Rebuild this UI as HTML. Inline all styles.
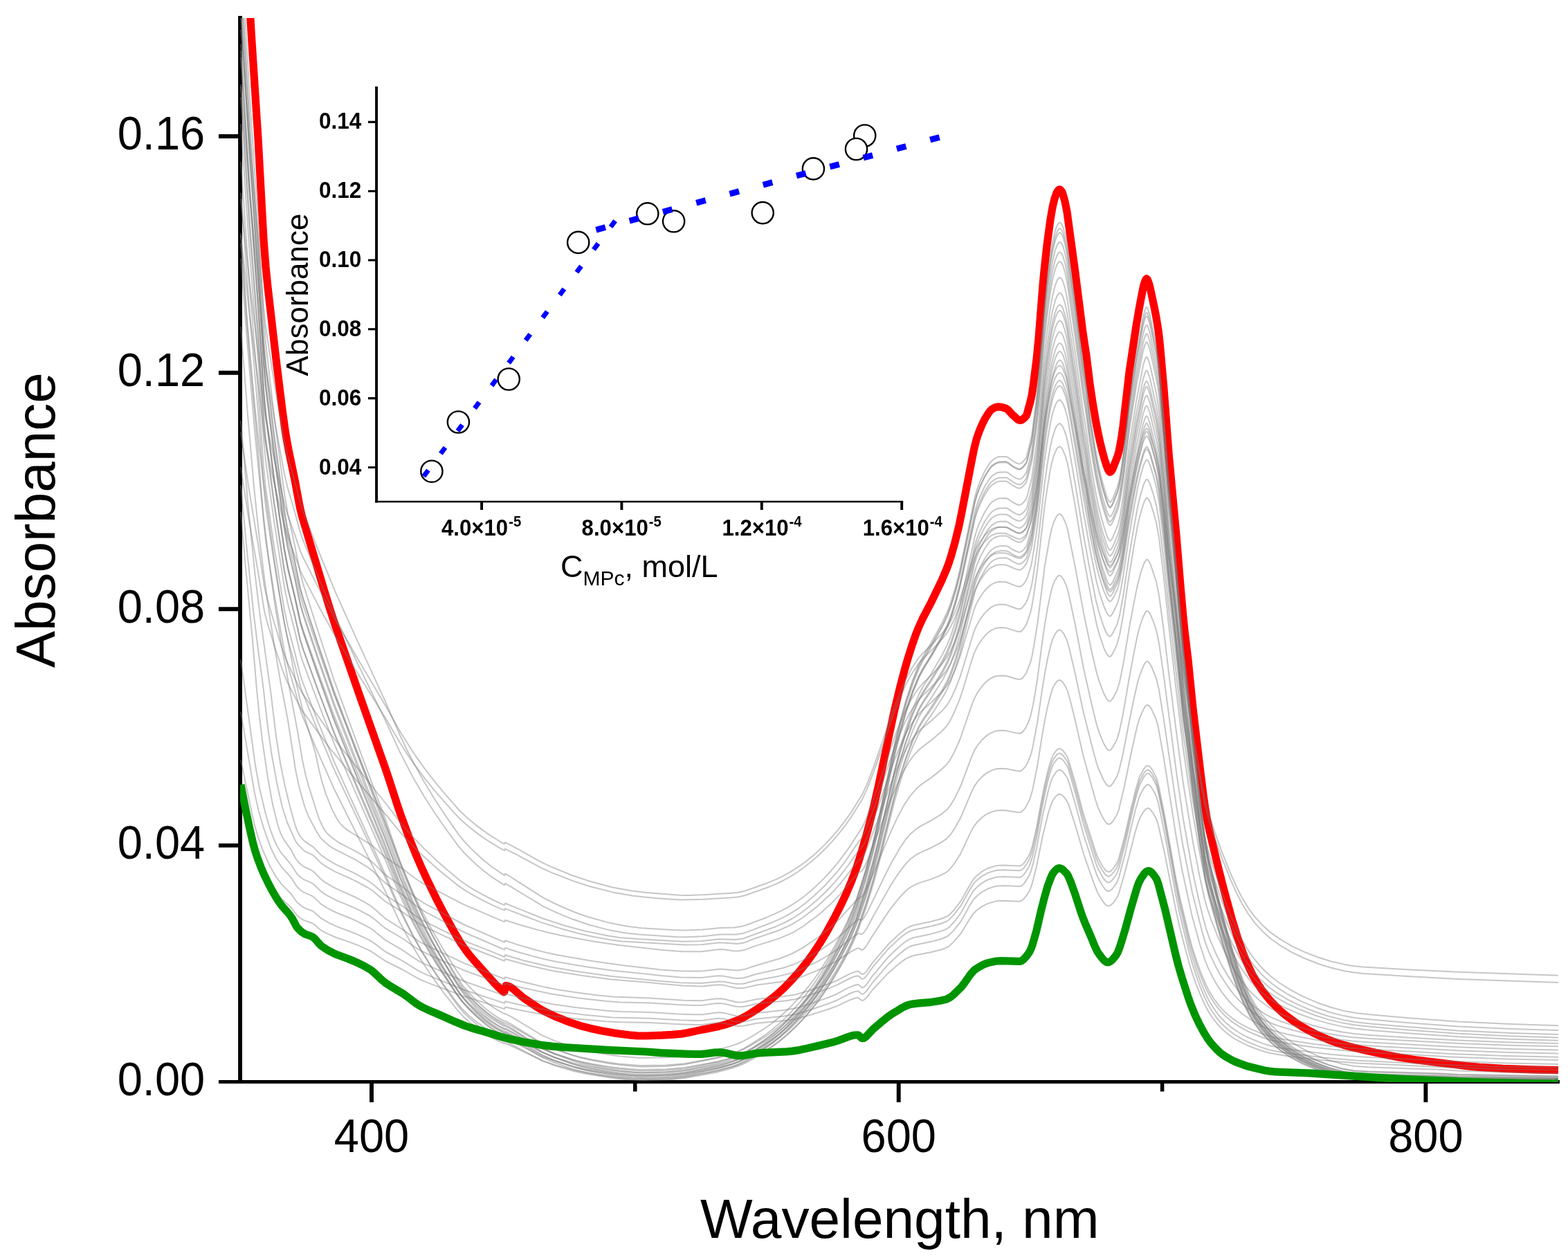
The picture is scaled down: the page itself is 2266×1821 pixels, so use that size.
<!DOCTYPE html>
<html lang="en"><head><meta charset="utf-8"><title>Absorbance spectra</title>
<style>html,body{margin:0;padding:0;background:#fff}svg{display:block}text{font-family:"Liberation Sans",sans-serif;fill:#000}.g path{fill:none;stroke:#7a7a7a;stroke-opacity:0.43;stroke-width:2;stroke-linejoin:round}.b{font-weight:bold}</style></head>
<body>
<svg width="2266" height="1821" viewBox="0 0 2266 1821">
<rect width="2266" height="1821" fill="#fff"/>
<defs><clipPath id="c"><rect x="347" y="26" width="1905.6" height="1537.9"/></clipPath></defs>
<g stroke="#000" fill="none" stroke-linecap="butt">
<path stroke-width="5.9" d="M347.05 23V1566"/>
<path stroke-width="4.9" d="M316 1563.5H2253.9"/>
<path stroke-width="5.9" d="M316 197.05H347M316 538.7H347M316 880.3H347M316 1221.9H347M537 1563V1592.9M1298.7 1563V1592.9M2060.4 1563V1592.9"/>
<path stroke-width="5.5" d="M917.8 1563V1577.5M1679.6 1563V1577.5"/>
</g>
<g clip-path="url(#c)" fill="none" stroke-linejoin="round">
<path stroke="#f00" stroke-width="11.2" d="M348-40l10 0.1l5 85l10 155.2l8 146.2l3 38.7l3 29.6l12 104.4l9 73.2l4 29l2 12.4l3 16.3l9 43.4l7 37.8l3 13.1l32 107.3l9 29.1l8 24.5l34 97.9l37 104.7l6 17.7l12 37.1l5 14.7l12 32.6l11 27.3l7 16.1l7 15.3l16 33l9 17.2l12 22l7 12.3l6 9.9l8 11.5l5 6.3l6 7.1l30 33.4l6 6.1l7 6.3l1-0.8l1-5.2l1-3.3l2 0.2l3 1l3 1.7l3 2.2l11 9.7l4 3.2l20 13.5l6 3.6l5 2.7l15 7.1l20 7.9l15 5l15 3.9l15 3.2l20 3.7l21 2.7l12 1.1l13 0.1l23-0.8l14-0.8l14-1.3l8-1.3l18-3.9l21-4.1l7-1.6l8-2.1l11-3.6l10-3.9l7-3.4l9-5.2l15-9.7l11-7.9l12-9.6l10-9l11-11.2l12-13.4l11-13.7l10-13.8l9-13.7l10-16.7l10-18.3l10-19.6l8-17.1l7-16.4l6-15.6l5-14.9l6-19.8l6-21l5-19l5-20.2l7-30.8l15-71.7l8-36.8l8-33.2l7-26.5l4-13.8l6-18.9l5-14.4l4-10.3l6-13.3l13-24.9l15-31l7-16.5l3-8.1l3-9.1l6-21.1l6-24.5l4-19.5l15-78.1l3-14.5l3-11.9l2-6.3l3-8l4-9.3l3-6l6-9.6l2-2.6l2-1.9l3-1.9l3-1.4l3-0.6l3 0.2l4 0.7l5 1.6l3 2.2l6 6.5l6 5.6l2 1.6l2 0.9l1 0.2l2-0.3l3-1.8l2-1.9l2-2.3l1-2.4l5-18.2l2-8.7l2-13.3l5-39.3l3-30.3l6-76.3l2-21.7l4-36.3l5-37.5l3-17.4l3-12.6l3-8.5l2-3.1l1-1.1l1-0.6l1 0.3l2 2.1l1 1.7l1 2.6l3 10.7l3 15.1l12 88.2l11 86.6l5 33.1l5 40.5l4 26.9l4 23.8l4 21.1l3 13.5l3 12.2l3 10.9l3 9.4l2 5.4l2 3.5l1 0.9l1-0.2l2-2.6l1-1.9l7-18.1l2-7.1l2-10l2-12.1l2-14.4l9-78.3l10-67l5-28.9l5-25.9l1-4.2l2-5.8l1-2.2l1-0.8l1 0.9l1 2.1l2 5.8l1 4l6 27.9l3 15.4l3 18.8l2 16.7l6 68.2l7 92.2l11 119.3l6 72.9l4 45.6l2 19.4l5 41.7l7 70.2l11 93.3l4 31.7l3 21.4l2 11.5l3 15l11 46.7l10 39.7l12 44.1l9 29.3l7 20.1l5 12.4l4 9.1l4 8.4l4 7.5l5 8.3l6 8.9l6 7.9l6 7.1l6 6.4l7 6.9l7 6.1l8 6.2l8 5.7l9 5.8l10 5.7l10 5.2l9 4.2l10 4.2l11 4.1l10 3.2l12 3.3l15 3.6l38 8.2l17 3.2l23 3.4l72 8.8l20 1.9l34 2l42 1.5l37.9 0.8"/>
<g class="g">
<path d="M348 1141.1l7 30.8l12 48.6l6 18.3l6 14.7l10 20.1l10 15.8l8 9.6l14 13.1l8 10.6l5 4.1l5 3.1l11 3.9l3 1.5l11 9.1l9 4.9l13 5.7l19 6.4l13 5l17 7.7l22 14.9l25 12.5l24 13.7l11 4.7l52 19.5l60 18.7l1-2.7l27 5.7l39 6.8l36 4.3l44 4l20 1.1l44 0.8l41 2.2l22 0.7l12-0.1l18-2.4l7-0.3l7 0.7l19 4l8-0.2l20-4l39-3.5l16-2.4l17-4.4l32-10.1l11-4l18-8.7l8-2.9l5-0.9l5 3.8l1 0.4l2-0.5l4-3.4l9-11.6l22-23.6l15-13.1l10-7.4l6-3.2l6-2.1l25-4.8l15-3.8l8-2.9l4-2.5l7-6.7l10-11.9l13-21.4l5-7.2l5-4.7l7-5.1l9-4.5l13-3.5l10-0.4l22 1l2-0.4l2-1l3-2.7l4-5.2l4-6.6l2-4.7l3-10l5-20.2l9-44.5l8-32.5l4-12.1l3-6.8l5-6.3l3-1.9l3 0.3l3 2.1l5 6l3 5.7l10 30.9l12 41.5l16 45.4l4 10l6 10.3l5 6.8l2 1.6l2 0.9l3-0.4l4-3.2l5-6.4l2-3.5l2-5l9-31.2l15-58.5l5-16l2-4.3l5-8.3l3-3.4l3-1.1l2 0.8l2 1.7l4 5.6l4 7.3l3 9.3l9 40.3l16 80.8l6 27.1l13 49.2l4 13.4l6 17.3l6 15.3l6 13.5l6 11.7l5 7.8l7 9.4l7 7.7l9 7.9l9 6.4l11 6.2l11 5.1l17 6.4l12 3.6l29 4.9l50 5.9l49 3.8l123 5.9l86 2.9l80.9 1.3"/>
<path d="M348 1098.4l17 81.7l4 16.3l4 13.4l7 19.4l9 20.4l8 14.7l9 12.6l15 15.4l8 11.5l8 6.6l4 2.2l11 4.2l3 2.2l9 8.2l12 6.9l11 5l29 11l18 8.7l6 3.8l17 12.9l25 13.4l24 14.9l11 5.1l52 21.1l60 19.9l1-2.7l26 6l39 7.5l48 5.9l42 3.8l54 1.3l43 2.5l23 0.7l11-0.2l17-2.5l7-0.4l7 0.8l13 3.3l6 1l8-0.1l20-4.4l39-3.8l16-2.6l17-4.8l32-11l11-4.4l18-9.3l8-3.2l5-1.1l1 0.5l4 3.7l1 0.4l2-0.5l4-3.7l9-12.6l22-25.6l15-14.2l10-8.1l6-3.6l6-2.2l25-5.2l15-4.1l8-3.2l4-2.7l7-7.2l10-13l13-23.3l5-7.8l5-5.1l7-5.5l9-4.9l7-2.4l6-1.4l10-0.4l22 1l2-0.4l2-1.1l3-2.9l4-5.6l4-7.3l2-5l3-11l5-21.9l9-48.4l8-35.3l4-13.1l3-7.3l5-6.9l3-2.1l3 0.3l3 2.3l5 6.5l3 6.2l10 33.6l12 45l16 49.2l4 10.9l6 11.2l5 7.3l2 1.8l2 0.9l3-0.4l4-3.6l5-6.9l2-3.8l2-5.5l9-33.9l8-35.3l7-28.4l5-17.5l2-4.7l5-9l3-3.7l2-1.2l1-0.1l2 0.8l2 1.9l4 6.1l4 7.9l3 10l9 43.7l16 87.7l6 29.4l13 53.4l4 14.5l6 18.7l6 16.7l6 14.6l6 12.6l5 8.5l7 10.2l7 8.3l9 8.5l9 6.9l11 6.8l11 5.4l17 6.8l12 3.9l12 2.4l17 2.7l49 6.1l47 3.9l119 6l89 3.2l84.9 1.5"/>
<path d="M348 1029.2l20 117.4l6 26.1l7 24l9 25.2l4 9.2l5 9.9l8 12.2l10 10.8l5 6.2l7 11.1l5 4.8l5 3.6l11 4.6l3 1.8l11 10.5l9 5.8l13 6.6l19 7.5l13 5.8l17 9l5 3.6l17 13.8l25 14.6l18 12.3l8 4.8l10 4.8l51 22.3l60 21.4l1-2.7l27 6.7l40 8.2l37 5.1l43 4.6l20 1.2l43 1.1l40 2.5l22 0.7l13 0l18-2.6l7-0.5l7 0.9l17 4.1l9 0.2l5-0.8l16-3.7l40-4.1l16-2.7l17-5l31-10.9l11-4.5l18-9.6l8-3.2l5-1.1l1 0.5l4 3.7l1 0.5l2-0.6l4-3.7l9-12.9l22-26.3l15-14.5l10-8.3l6-3.6l6-2.3l25-5.4l15-4.1l8-3.3l4-2.7l7-7.5l10-13.3l13-23.8l5-8l5-5.3l7-5.6l5-3.1l4-1.9l12-3.7l10-0.6l24 1l3-1.4l3-3l4-5.8l4-7.4l4-12.3l6-26.5l7-39.2l5-25.1l4-17.6l4-14.1l3-8.6l2-3.8l4-5.4l2-1.7l2-0.6l3 1.2l3 2.9l5 7.2l2 4.6l10 34.5l11 42.7l19 59.8l3 7.4l7 12.6l4 5.2l3 1.8l2-0.1l2-1l4-4.3l5-7.5l3-7.8l9-34.7l8-36.1l8-33.1l5-16.5l6-11.4l2-2.7l2-1.8l2-0.5l2 0.8l4 4.7l6 11.5l3 10.4l9 44.8l16 89.8l6 30.2l14 58.6l4 14.4l6 18.8l6 16.7l8 19.2l5 9.8l7 11.2l7 9.4l8 8.5l10 8.6l10 6.7l9 5.1l10 4.6l16 6.4l11 3.4l15 2.9l18 2.8l53 6.5l28 2.5l25 1.5l121 6.1l80 2.7l75.9 1.4"/>
<path d="M348 953.3l21 153l6 32.5l8 33.9l5 17.8l4 12.2l4 10.5l4 8.8l6 10.2l13 15.3l3 4l7 11.2l5 4.8l5 3.7l11 4.7l3 1.8l11 10.7l9 5.9l13 6.8l19 7.8l13 5.9l17 9.2l5 3.6l17 14.1l25 14.8l18 12.6l8 4.8l10 4.9l51 22.9l60 22l1-2.7l27 7l40 8.6l39 5.8l41 4.7l20 1.3l43 1.2l39 2.5l23 0.8l13-0.1l18-2.5l7-0.4l7 0.9l17 4l9 0.2l5-0.8l16-3.6l40-4l16-2.6l17-4.9l31-10.7l11-4.5l18-9.4l8-3.2l5-1l1 0.5l4 3.7l1 0.4l2-0.5l4-3.7l9-12.7l22-25.8l15-14.3l10-8.1l6-3.6l6-2.2l25-5.3l15-4l8-3.2l4-2.7l7-7.4l10-13.1l13-23.4l5-7.8l5-5.2l7-5.6l9-4.9l12-3.6l10-0.6l24 1l3-1.4l3-2.9l4-5.7l4-7.2l4-12.1l6-26.1l7-38.5l5-24.7l4-17.4l4-13.8l3-8.4l2-3.7l4-5.4l2-1.6l2-0.6l3 1.1l3 2.9l5 7.1l2 4.6l10 33.9l11 42.2l19 59.1l3 7.3l7 12.5l4 5.2l3 1.8l2 0l2-1l4-4.1l5-7.3l3-7.6l9-34l8-35.3l8-32.4l5-16.1l6-11.1l2-2.6l2-1.8l2-0.4l2 0.8l4 4.8l6 11.5l3 10.2l9 44.3l16 88.7l6 29.8l14 57.9l4 14.2l6 18.7l6 16.5l8 19l5 9.7l7 11.1l7 9.4l8 8.5l10 8.6l10 6.8l10 5.6l10 4.7l16 6.5l11 3.4l16 3.2l19 3.1l28 4l25 2.9l26 2.5l31 2l116 6.4l79 2.9l74.9 1.6"/>
<path stroke-opacity=".62" d="M348 740.2l7 79.8l10 105.9l6 70.3l4 39.7l4 34l8 54.3l7 38.4l7 28.4l4 11.8l3 6.8l3 5.2l10 13.9l6 11.8l4 5.2l4 3.8l4 3l11 5.1l3 1.9l10 10.4l5 4l7 4.5l9 5l28 12.6l11 5.6l9 5.3l7 4.9l18 15.8l25 15.8l18 13.3l7 4.6l11 5.8l55 26l56 21.6l1-2.6l23 6.4l34 8.1l19 3.7l26 3.9l30 4l24 2.3l53 2.1l49 3.1l26 0.5l19-2.6l8-0.4l6 0.8l13 3.3l6 1.1l8-0.2l20-4.3l39-3.8l16-2.6l17-4.8l32-11l11-4.4l18-9.4l8-3.2l5-1.1l1 0.5l4 3.7l2 0.3l2-1l3-3l9-12.8l23-26.8l14-13.3l10-8.1l6-3.6l6-2.2l25-5.3l15-4l8-3.2l4-2.7l7-7.4l10-13.1l13-23.4l5-7.8l5-5.2l7-5.6l9-4.9l12-3.6l10-0.6l24 1l3-1.4l3-2.9l4-5.7l4-7.3l4-12l6-26.2l7-38.5l5-24.7l4-17.4l4-13.8l3-8.5l2-3.7l4-5.3l2-1.6l2-0.6l3 1.1l3 2.9l5 7.1l2 4.6l10 34l11 42.2l19 59.2l3 7.3l7 12.7l4 5.1l3 1.9l2-0.1l2-0.9l4-4.1l5-7.3l3-7.6l9-33.9l8-35.4l8-32.4l5-16l6-11l2-2.7l2-1.7l2-0.5l2 0.9l4 4.8l6 11.5l3 10.2l9 44.4l16 88.9l6 29.9l14 58l4 14.3l6 18.6l6 16.6l8 19.1l5 9.8l7 11.1l7 9.4l8 8.6l10 8.6l10 6.9l10 5.6l10 4.8l16 6.5l11 3.5l16 3.3l20 3.3l27 3.9l25 3l26 2.5l30 2.1l114 6.4l80 3.1l76.9 1.7"/>
<path d="M348 701.4l8 85.3l10 95.2l7 56.7l7 51.3l7 61l5 35.8l8 44.8l8 35.2l7 21.8l11 24.7l2 3.7l3 4l9 9.2l12 5.6l3 2.5l9 9.2l8 5.5l13 7.3l27 12.1l20 10.7l7 4.8l18 15.2l25 15.4l18 12.9l7 4.5l11 5.6l52 24.4l59 22.9l1-2.7l33 9l35 7.9l44 7l41 5.5l56 4.6l16 1.8l32 2.8l27 1l19-2.1l7-0.3l7 0.9l17 3.9l10 0.1l20-4.6l34-4.4l17-3.2l15-4.7l25-10.3l23-11.3l21-13.8l8-4.3l3-1.2l1 0.1l4 2.4l1 0.2l2-1.1l4-4.7l9-15l25-37.6l13-16.4l10-10.7l6-4.8l7-3.9l7-2.9l15-4.8l13-5l9-4.4l5-3.7l7-8.3l10-15.6l15-31.7l4-7.5l5-6.6l8-7.6l4-2.8l5-2.8l5-2l6-1.6l5-0.5l8 0.3l16 2.4l5 0.3l3-1.4l3-2.9l4-5.9l4-8.2l4-13.2l7-34.6l7-44.7l4-22.4l4-19.6l4-15.9l3-9.6l3-6l4-5.4l3-1.4l2 0.7l3 2.8l4 6.4l3 6.6l4 14.1l7 28.5l11 48.5l18 65.4l4 11.7l6 12.8l4 6.8l2 2.4l2 1.5l3 0l2-1.4l2-2.3l6-9.6l3-8.1l8-33.6l8-39.7l8-36.3l3-12.4l3-10l6-13.4l2-3.1l2-1.9l1-0.3l2 0.6l2 2l2 3.2l7 15.4l3 11.5l8 45l18 114.2l8 44.9l14 65.3l12 44l7 21.5l5 12.6l6 12.3l8 14l7 10.3l10 12.3l10 10.1l10 8.4l11 7.5l12 6.8l11 5.3l10 3.5l18 4.8l23 4.9l25 4.5l25 3.5l19 2.1l30 2.1l125 6.8l75 2.7l70.9 1.5"/>
<path d="M348 607.8l10 116.8l10 100.7l8 66l15 106.9l8 65.8l6 38.5l6 29.9l8 33.1l7 25.3l3 8.7l4 7.9l5 6.4l3 2.5l12 8.1l11 11.4l7 5.1l14 8.2l27 12.7l20 11.2l7 5l18 15.8l25 16l18 13.5l7 4.6l10 5.5l46 22.6l14 6.2l25 9.7l27 11.1l1-2.7l27 7.9l39 9.3l35 5.9l51 7.3l73 7.2l28 2.3l30 0.8l27-2.6l7 0.7l17 3l10-0.3l19-5l32-5.9l18-4.4l16-6l21-10.2l14-7.8l14-8.9l23-18.1l8-5.7l2-0.7l4 1l1-0.3l2-1.6l5-7.2l8-15l26-46.2l12-18.4l10-13.1l7-7l7-5.1l7-4l15-6.7l15-7.9l8-5.5l6-6.4l6-9.1l8-14.3l15-35.5l5-10.4l5-7.1l7-7.4l5-4l5-3l4-1.8l6-1.8l5-0.6l9 0.4l15 3l5 0.4l3-1.4l4-4.1l3-4.7l4-8.8l2-5.8l2-7.8l7-36.5l7-48.3l4-24.4l4-21l4-17.1l3-10.3l3-6.6l4-5.9l3-1.6l3 1.4l3 3.9l4 7.7l3 8.9l10 42.5l12 56l14 55.3l5 17.9l4 10.7l6 13.2l4 6.2l3 2.3l2 0.1l1-0.6l3-3.2l6-10l3-8.2l6-25.5l9-46.8l8-38l4-17.4l3-10.5l6-14.8l2-3.4l2-2l2 0.2l2 1.8l3 5.2l7 17.2l4 17.2l7 43.5l18 122.9l9 55.3l14 70.7l14 55.7l5 16.8l5 13.5l9 19.2l8 14.8l9 13.9l9 12.1l11 12.4l10 9.2l11 8.3l13 8l10 4.9l12 4.4l19 5.7l24 5.8l22 4.3l23 3.6l17 1.9l26 2l127 6.9l75 2.6l69.9 1.5"/>
<path stroke-opacity=".62" d="M348 472.2l10 127.2l9 103.9l7 67.1l8 64.7l7 50.1l7 45.4l10 58.2l10 51.9l11 71.3l5 23.9l7 25.6l3 8.8l4 9.8l10 19.2l6 9.9l3 3.6l4 3.7l7 6.1l6 3.7l31 15.9l19 11.5l7 5.4l13 12.8l6 5.2l24 16.5l22 17.6l12 7.4l55 28.9l58 25l1-2.6l18 5.8l21 5.9l18 4.6l16 3.5l44 7.5l37 5.4l56 5.6l15 1.9l29 2.4l29 0.6l21-2.6l6-0.3l6 0.5l14 2.7l6 0.6l9-0.8l18-5.5l27-5.9l13-3.3l14-4.6l15-7l22-12.7l19-13l9-7.1l19-17.5l9-7.4l1-0.3l4 0.6l1-0.3l2-1.9l5-8.2l27-56.1l8-15.7l12-20.9l9-13.4l7-8.1l7-6l7-4.8l16-8.5l15-9.3l8-6.7l5-6.3l6-10.3l8-16.2l16-42.6l4-9.3l5-8.1l7-8.4l5-4.5l5-3.5l4-2l6-2.1l5-0.6l9 0.4l15 3.5l5 0.4l2-0.8l2-1.6l4-5.2l3-6l4-10.4l4-17.5l6-35.3l7-54.2l4-27.3l4-23.5l4-19.1l3-11.5l3-7.5l4-6.6l2-1.6l1-0.3l3 1.6l3 4.3l4 8.7l3 10.1l10 47.5l12 62.4l13 57.6l6 24.1l4 12l6 14.7l4 7l3 2.6l2 0.2l1-0.6l3-3.6l6-11.2l3-9.1l6-28.3l9-52.4l8-42.2l4-19.4l3-11.7l5-14.4l4-7.5l1-0.9l2 0.3l2 2l2 3.7l4 9.7l4 11.8l4 19.1l7 48.7l18 137.2l10 68.4l13 73l9 41.7l6 25.1l5 18.4l5 14.4l9 21.2l8 16.3l9 15.5l9 13.6l11 13.9l10 10.3l10 8.4l13 9.1l10 5.4l13 5.4l19 6.3l24 6.4l22 4.7l23 3.9l16 2l25 1.9l128 7.1l76 2.7l68.9 1.6"/>
<path d="M348 373.6l9 118.1l11 130.4l10 99.6l10 85.2l9 64.7l10 62.1l23 123.2l7 41.6l4 18.8l4 15.4l13 41.4l4 11.4l5 10.6l3 4.7l4 4.9l5 4.3l11 8l24 12.3l10 5.9l9 6l6 4.7l13 12.9l6 5.3l24 16.8l20 16.3l10 6.6l58 31.2l59 25.9l1-2.6l19 6.3l24 6.9l18 4.6l16 3.4l51 8.8l39 5.5l58 6.7l29 2.1l29-0.1l28-2.9l25 1.9l10-1.6l17-5.7l34-10l18-7.2l15-8.2l22-14.8l18-14.6l15-14.2l25-27.7l5-2.3l3-3.5l3-5.3l4-8.7l34-80.4l8-16.9l9-17l9-13.8l9-10.3l7-6.2l15-10.5l14-11l7-6.6l5-6.3l7-12.5l8-17.7l17-49.4l4-10.5l5-9.3l6-8.3l5-5.5l5-4.2l4-2.6l6-2.4l6-0.9l9 0.4l15 4.5l5 0.6l2-0.8l2-1.5l5-6.5l6-15.4l2-7.4l2-10.2l6-36.4l11-86.7l7-40l3-13.3l3-9.4l4-8.2l2-2.3l2-1l1 0.2l2 1.4l2 2.8l4 8.8l3 9.7l11 54.7l12 65.5l12 57.3l7 29.8l4 12.9l6 15.9l4 7.9l3 3.4l2 0.6l1-0.5l3-3.5l6-11.2l4-12.7l5-24.5l9-54.5l8-42.4l4-19.4l4-15.4l5-14.8l3-5.3l1-0.8l1 0.1l1 0.7l2 2.7l2 4.5l8 23.9l4 19.9l7 52l7 59.7l10 78.1l11 82.4l14 84.6l10 50.8l6 27.4l4 15.3l6 17.9l10 25.3l10 21.8l10 19.2l10 16.4l8 11.2l10 11.8l11 10.3l12 9.3l12 7.1l14 6.7l19 7.4l23 7.3l20 5l22 4.3l16 2.2l22 1.9l55 3.6l73 4l77 2.9l67.9 1.6"/>
<path d="M348 336.8l10 136.8l10 111.3l6 54.9l6 49.5l17 124.1l7 45.7l6 35.5l18 92.9l10 41l18 60.4l5 23.6l4 16.1l6 19.3l9 22.2l7 13.4l4 5.8l4 4.6l7 5.7l33 20.5l5 3.9l17 15.2l25 16.6l18 13.7l7 4.8l11 6.1l51 26.2l60 25.7l1-2.6l20 6.5l25 7.2l18 4.6l17 3.8l50 9.2l35 5.1l60 6.7l31 2.5l28-0.1l26-3.2l6 0.3l14 2l6 0.3l10-1.7l17-6.3l23-7l13-4.5l17-7.5l15-9.1l21-15.6l18-15.9l14-14.4l26-31.4l5-2.1l3-3.7l6-12.9l34-88.8l8-18.8l9-19l9-15.5l5-6.8l5-5.9l7-6.6l15-11.4l14-11.9l7-7.3l5-6.9l7-13.9l8-19.6l4-11.9l13-43l4-11.6l5-10.3l6-9.1l5-6.1l5-4.6l4-2.9l6-2.7l6-1l9 0.5l15 5l5 0.6l2-0.8l2-1.8l5-7.3l6-17.2l2-8.5l2-11.4l6-40.9l11-96.8l7-44.7l3-15l3-10.4l4-9.1l2-2.5l2-1.2l1 0.3l2 1.6l2 3l4 9.9l3 10.8l11 61.2l12 73.6l12 64.1l7 33.5l4 14.5l6 17.9l4 8.8l3 3.8l2 0.6l1-0.5l3-3.9l6-12.5l4-14.3l5-27.5l9-60.9l8-47.6l4-21.7l4-17.3l5-16.3l3-5.9l1-0.9l1 0.1l1 0.8l2 3l2 4.9l4 12.4l4 14.4l4 22.4l7 58.3l7 66.8l10 87.7l11 92.1l14 94.6l10 56.6l6 30.5l4 17l6 20l10 28.3l9 22l10 21.5l10 18.5l8 12.7l11 14.5l11 11.6l12 10.4l11 7.4l15 8.2l19 8.3l23 8.4l20 5.8l22 5l17 2.6l23 2.4l53 4.3l73 5l76 3.5l68.9 2"/>
<path d="M348 675l11 72.3l14 79l9 56.8l4 16l11 35.6l12 36l6 14.8l21 40.7l42 56.9l36 43.3l45 52.6l19 23.3l15 16.6l14 14.1l25 22.6l29 23.5l12 8.3l20 11.5l19 9.5l17 7.3l1-2.6l53 20.3l30 9.4l23 6.2l21 4.7l26 4.8l16 1.9l90 5.2l25-0.4l26-3l26 1.7l8-1.2l3-0.9l15-5.8l34-11.5l18-8.3l15-9.2l22-16.9l19-17.5l8-8.4l8-9.2l24-30.9l6-4.4l4-7.1l4-9.4l13-34.1l18-50.2l8-20.5l9-20.8l8-16.1l7-11.3l8-10.3l6-6.1l16-13.1l15-14l7-8.2l6-10.3l7-15.7l6-15.8l19-62.5l4-9.7l5-8.8l6-8.3l6-6.2l5-3.9l6-2.7l6-1l9 0.5l15 5.4l4 0.8l2-0.3l2-1.3l5-6.3l3-6.6l4-12.3l2-8.3l2-11.4l6-40.6l11-97.7l4-27.5l4-22.8l3-13.6l4-11.6l2-4.1l2-2.6l2-1.2l1 0.2l3 2.9l3 6.5l3 8.7l3 12.9l10 56.8l12 74l10 54.6l8 39.7l4 15.7l6 18.8l4 9.9l2 3.7l2 2.4l2 0.9l1-0.5l3-3.8l6-12.3l4-13.8l5-27.1l9-60.8l7-41.1l5-27.2l4-17.1l5-16.6l3-5.8l1-0.8l1 0.1l1 1l3 5.6l5 15.6l4 14.8l4 22.4l7 59l8 76.9l20 172.8l14 96.3l10 58.2l6 31.5l4 17.5l6 20.6l11 31.8l10 25l10 22.2l10 19.1l8 12.9l10 13.7l11 12.1l12 10.8l12 8.5l15 8.6l19 8.9l22 8.5l20 6.3l21 5l16 2.7l23 2.5l54 4.6l73 5.3l77 3.7l67.9 2"/>
<path stroke-opacity=".62" d="M348 624.6l11 77.4l14 84.7l9 60.8l4 17.1l10 34.7l12 38.8l6 16.6l19 40.2l3 5.5l38 55.1l16 21.3l67 83.7l20 26.2l18 21.1l15 15.8l18 17.3l16 14.3l22 18.3l14 9.3l16 9.4l17 8.8l16 7.1l1-2.6l54 21.8l32 10.4l29 7.8l34 7l16 2.4l27 2.2l64 3.6l26-0.5l27-3l24 0.8l11-1.5l47-17.3l12-5.3l12-6.4l12-7.7l12-9.1l14-11.9l12-11.6l11-11.8l7-8.2l12-15.7l15-21.2l6-5.9l4-7.6l4-9.7l13-35.3l22-63.8l8-20.7l9-20.8l9-17l10-14.5l7-7.6l14-12.4l15-14.9l7-8.4l5-8.1l7-15.2l7-18.3l21-70.1l3-7.2l5-9.1l6-8.7l5-5.5l5-4.3l6-3.1l6-1.3l10 0.4l15 5.9l5 0.8l2-0.8l3-2.7l3-4l2-3.9l5-15.1l2-8.1l6-37.6l3-22.7l9-82.9l4-29l5-29.5l3-13.8l4-11.9l2-4.1l2-2.6l2-1.2l1 0.2l3 2.9l2 4.1l3 8.2l3 11.5l11 62.6l12 74.7l10 55.5l8 40l4 16l7 21.9l5 11.3l3 3.4l1 0.3l1-0.4l2-2.1l2-3.5l6-12.9l3-10.8l5-26.9l8-54.7l8-47.1l5-26.7l4-17.3l5-16.9l3-5.9l1-0.7l1 0.2l1 1.1l3 6.1l5 16.3l4 15.1l4 22.5l7 59.8l8 78.4l20 175.3l14 98.3l11 65.9l6 31.9l5 20.7l6 19.6l11 32.3l11 28l8 18.3l10 20l9 15.1l9 12.7l11 12.6l12 11.2l13 9.5l15 9l19 9.3l21 8.6l20 6.5l21 5.3l16 2.7l22 2.4l54 4.7l73 5.3l77 3.7l67.9 2"/>
<path d="M348 121.6l13 158.9l12 125.6l8 97l3 25.9l12 73.8l15 82.2l5 21l10 34.1l8 29.7l4 11l21 50.9l25 58.2l35 73.3l38 78.2l21 45.7l20 38.5l14 23.9l16 25l14 20.3l21 28.7l8 9.3l14 13.7l13 11.3l13 9.9l18 11.6l1-2.4l8 4.4l47 28.5l18 8.6l24 9.9l24 8.2l31 8.1l21 3.7l23 2.5l51 3.1l15 0.4l23-1l26-2.7l23 0l9-1.5l7-2.2l33-12.6l11-4.7l10-4.8l10-5.6l10-6.5l10-7.5l11-9.1l17-16.1l18-20.1l13-17.1l17-25.2l5-5.9l2-3.3l6-13.5l12-32.6l19-57l9-25.5l7-17.9l7-16.3l9-17.3l10-14.9l6-6.9l14-13.2l15-15.7l7-8.8l5-8.2l7-15.3l7-18.6l21-70.7l4-9.5l5-8.8l6-8.4l6-6.4l4-3.1l6-2.8l6-1l9 0.5l15 6.3l4 0.9l2-0.3l3-2l5-6.3l5-13.8l3-11.1l6-36.7l4-31l8-73.8l4-28.6l5-29.2l3-13.6l3-9.5l3-6.5l2-2.6l2-1.2l1 0.2l2 1.6l2 3.1l4 10.6l3 11.7l11 62.2l12 73.8l11 60.8l8 38.6l5 18.3l5 15.2l5 11.6l3 3.6l1 0.5l1-0.3l2-2.1l2-3.3l6-12.4l3-10.4l4-20l9-59.9l8-45.6l5-25.8l5-20.6l4-13.3l3-5.7l1-0.7l1 0.4l2 2.9l2 4.7l9 31.9l4 22l7 59.6l8 78.4l20 174.5l14 98.5l11 66.7l6 32.6l5 20.8l6 19.8l11 32.8l12 31.4l8 18.7l10 20.7l9 15.4l9 13l11 12.9l12 11.4l13 9.9l15 9.3l19 9.8l21 8.9l20 6.8l20 5.1l16 2.9l21 2.3l54 4.7l74 5.4l77 3.6l67.9 2.1"/>
<path d="M348 42.9l13 167.9l12 132.6l8 102.4l3 27.4l12 78l15 86.8l5 22.1l10 36l8 31.4l4 11.7l21 53.7l25 61.3l35 77.5l38 82.5l21 48.3l10 21l10 19.6l14 25.2l16 26.4l14 21.4l21 30.3l8 9.8l14 14.4l13 11.9l13 10.5l18 12.1l1-2.4l8 4.7l47 30l17 8.6l24 10.5l12 4.7l13 4.3l31 8.6l23 4.4l22 2.7l45 2.9l19 0.5l24-1l26-2.5l20-0.6l10-1.4l8-2.3l28-10.6l12-5l11-5.3l11-6l10-6.4l10-7.3l11-8.9l10-9l9-8.9l10-10.9l10-11.8l16-21.6l20-31.1l7-16.1l11-29.8l28-83.5l7-18.2l7-16.5l9-17.7l10-15.6l7-8.3l13-12.6l15-16.1l7-9l5-8.3l7-15.1l7-18.4l21-70.1l4-9.5l5-8.7l6-8.5l6-6.3l4-3.1l6-2.7l6-1l9 0.5l15 6.6l3 0.9l2 0.1l2-0.7l3-2.3l3-3.4l2-3.4l5-14.4l2-7.4l6-35.1l4-29.8l8-72.1l4-27.7l4-23.1l3-14.5l3-10.5l4-9.1l2-2.5l2-1.2l1 0.2l2 1.5l2 3.1l4 10.5l3 11.7l11 60.7l12 71.7l4 19.8l7 39.8l7 33.2l5 18.9l6 18.3l5 11.6l3 3.9l1 0.6l1-0.2l3-3.3l7-13.4l3-9.5l4-19l9-57.7l9-48.3l6-27.7l5-18.2l3-8.3l2-3.3l1-0.6l1 0.5l1 1.3l3 6.7l8 27.8l3 13.6l2 11.7l7 58.3l8 76.9l20 170.5l14 97l11 66.4l6 32.6l6 24.3l9 28.3l9 26.2l12 31.3l9 20.8l8 16.5l9 15.6l9 13.1l11 13l12 11.5l14 10.8l16 10.2l18 9.4l21 9.1l19 6.6l20 5.3l16 2.8l21 2.4l53 4.6l74 5.5l77 3.7l67.9 2.2"/>
<path d="M348 340.1l13 117.7l12 93.3l8 71.8l3 19.4l12 55.5l15 62l5 15.9l19 51.4l28 53.6l23 41.4l34 56l37 59.7l21 35.7l11 17.1l11 15.9l14 18.7l17 20.9l24 27.1l11 11.6l12 10.4l14 10.9l14 9.6l14 8.6l9 4.9l1-2.4l20 10.1l31 16.8l15 6.9l32 12.5l25 8.1l32 8.2l29 5.1l13 1.6l26 2.3l31 2.1l31-0.7l43-2.5l9-1l10-2.3l33-11.7l12-5l10-4.8l11-6.2l10-6.3l10-7.2l11-8.8l10-8.8l9-8.9l10-10.7l10-11.7l9-11.6l8-11.3l16-25.7l7-15.1l10-25.5l29-84.1l8-20.5l8-18.3l9-17.1l10-15.1l6-7l13-12.5l16-17l7-9.1l5-8.4l7-14.9l6-15.3l21-66.9l3-7.2l5-8.9l7-9.5l6-6.1l4-3l6-2.5l6-0.8l9 0.6l15 6.9l4 1.1l3-0.7l3-1.9l3-2.9l2-3.1l5-13.4l2-6.7l6-32.5l4-27.8l8-68.2l4-25.9l4-21.7l3-13.6l4-12.5l3-6l2-2.3l2-1.2l1 0.1l2 1.5l2 2.9l4 10.1l3 11.4l11 57.2l11 61.8l5 23.8l5 27.9l9 40.7l4 14.6l6 17.7l6 13.7l3 3.9l1 0.6l1-0.2l3-3l7-12.6l3-8.7l4-17.5l9-54.5l8-39.9l7-30.6l6-20.7l3-6.6l2-2l1 0.5l1 1.4l3 6.4l8 26.4l5 23.5l7 54.7l7 64.4l21 168.4l7 43.7l7 48.1l11 63.6l6 31.3l6 23.1l9 26.9l10 27.6l12 30.1l9 20l8 15.8l9 14.8l9 12.3l11 12.1l12 10.8l14 10.1l16 9.5l18 8.7l20 8l19 6l20 4.8l12 2l15 1.6l65 4.2l72 3.8l144.9 5.1"/>
<path d="M348 287.5l13 123.7l12 98l8 75.5l3 20.3l12 58.2l15 65.1l5 16.8l10 27.5l8 23.8l4 9.1l22 43.7l25 47.5l34 58.7l38 64.3l21 37.3l21 33.2l14 19.6l17 22l14 16.8l21 23.9l11 10.2l14 11.4l15 11l14 8.9l10 5.8l1-2.5l20 10.6l30 16.9l15 7.3l31 12.7l25 8.5l33 8.9l29 5.3l21 2.5l48 3.8l11 0.2l21-0.7l43-2.5l9-0.8l10-2.2l33-11.6l12-5l10-4.8l11-6l11-7l10-7.1l11-8.9l10-8.9l9-8.9l10-10.8l10-11.7l9-11.7l8-11.3l16-25.8l7-15.2l10-25.7l29-84.5l8-20.6l8-18.4l9-17.1l10-15.2l6-7l13-12.6l16-17.1l7-9l5-8.5l7-14.9l6-15.4l21-67.3l3-7.3l5-8.9l7-9.6l6-6l4-3.1l6-2.4l6-0.8l9 0.6l3 1l12 5.9l4 1.1l3-0.6l3-2l3-3l2-3.1l5-13.4l2-6.8l6-32.7l4-27.9l8-68.6l4-26.1l4-21.8l3-13.7l4-12.6l3-6.1l2-2.3l2-1.2l1 0.2l2 1.5l2 2.9l4 10.1l3 11.5l11 57.4l11 62.2l5 23.8l5 28.1l9 40.9l4 14.6l6 17.7l6 13.7l3 3.9l1 0.6l1-0.2l3-3.1l7-12.7l3-8.8l4-17.7l9-54.9l8-40.3l7-30.9l6-20.9l3-6.7l2-2l1 0.5l1 1.3l3 6.5l8 26.4l5 23.6l7 54.9l7 64.7l21 169.1l7 43.9l7 48.2l11 63.9l6 31.5l6 23.1l9 26.9l10 27.8l12 30.1l9 20l8 15.8l9 14.8l9 12.3l11 12.1l12 10.7l14 10l16 9.4l18 8.6l20 7.9l19 5.9l20 4.7l12 2l15 1.5l64 3.9l73 3.5l144.9 4.9"/>
<path d="M348 351.8l13 167.6l12 131.8l8 102.4l3 27.1l12 76.1l15 84.4l5 21.2l10 34l8 29.8l4 10.9l21 49.3l24 54.1l73 146.1l22 46.6l18 33.7l14 23.1l16 23.8l15 20.6l20 25.5l8 8.8l9 8.1l12 9.5l12 8.2l9 5.4l8 4.1l10 4.4l1-0.6l9 3.7l45 21.6l20 6.8l28 7.4l18 3.6l22 3.3l18 2.2l23 1.9l22 0.6l37-1.5l19-1.9l48-8.7l21-5.6l9-3.2l8-3.5l12-6.3l15-8.6l12-7.8l11-8.1l11-9.1l12-11l10-10.2l10-11.2l10-12.3l9-12.1l10-14.9l10-16.1l9-15.5l8-15.1l8-16.8l5-12.1l13-36.8l10-32.7l7-25.7l24-94.9l8-27.6l8-24.6l10-25.9l9-19.1l6-9.9l12-17l16-24.6l7-12.8l5-11.1l7-19.5l6-19.9l22-90l3-8.8l4-9.2l7-12.8l6-8.5l4-4.3l6-3.6l6-1.5l9-0.2l3 1.1l6 3.8l6 3l4 1l3-0.9l3-2.3l4-4.6l1-2.3l7-24.3l7-45.8l3-26.2l8-84.4l4-31.6l5-32.8l3-15.3l4-14.2l3-6.6l2-2.5l1-0.6l1 0l2 1.5l2 3.3l3 8.5l3 12.3l12 73.4l11 72.5l5 27.8l5 34.1l8 42.7l4 17.8l6 21.6l6 17.1l2 4.7l2 2.8l1 0.8l1-0.2l3-3.9l7-15.5l2-6l2-8.5l4-22.7l9-66.6l10-57l10-46.7l3-8.6l1-1.8l1-0.7l1 0.7l1 1.8l3 8.3l9 36.6l3 16l2 14.2l6 57.8l7 78.2l11 101.2l10 100.5l7 51.8l7 59.6l11 79l7 44.9l5 22.4l11 39.4l10 33.5l12 37.2l9 24.6l7 16.9l9 18l8 13.2l11 14.3l12 12.3l14 11.6l15 9.9l17 9l21 8.8l19 6.1l20 4.7l14 1.9l16 1l108 1.6l27 1l144.9 0.3"/>
<path d="M348 278.5l13 177.2l12 139.4l8 108.1l3 28.7l12 80.5l15 89.2l5 22.4l10 36l8 31.5l4 11.5l21 52.1l24 57.2l73 154.4l22 49.3l18 35.7l13 22.7l16 25.3l15 21.9l20 27l8 9.6l9 8.7l12 10.2l12 8.7l9 5.8l8 4.4l11 5.1l1-0.5l9 3.9l44 22.4l19 7l28 8l16 3.5l20 3.3l22 3l22 2.1l21 0.9l37-1.2l22-2l48-8.7l21-5.6l9-3.1l8-3.4l12-6.2l15-8.6l12-7.9l11-8l11-9l12-11.1l11-11.2l10-11.3l10-12.3l9-12.3l10-15l10-16.3l9-15.6l8-15.2l8-17l5-12.1l13-37.2l10-33l7-25.8l24-95.8l8-27.8l8-24.8l10-26.2l9-19.2l6-10l12-17.2l16-24.8l7-12.8l5-11.3l7-19.6l6-20.1l22-90.7l3-8.9l4-9.3l7-13l6-8.5l4-4.3l6-3.7l6-1.5l9-0.1l3 1.1l6 3.8l6 3.1l4 1l3-0.9l3-2.3l4-4.7l1-2.3l7-24.5l7-46.3l3-26.4l8-85.1l4-31.9l5-33l3-15.5l4-14.3l3-6.7l2-2.5l1-0.7l1 0.1l2 1.5l2 3.3l3 8.6l3 12.5l12 74l11 73.3l5 28l5 34.4l8 43.1l4 18l6 21.8l6 17.3l2 4.7l2 2.9l1 0.8l1-0.2l3-4l7-15.6l2-6.1l2-8.6l4-22.8l9-67.2l10-57.5l10-47.1l3-8.7l1-1.8l1-0.8l1 0.8l1 1.8l3 8.3l9 37l3 16.1l2 14.4l6 58.3l7 79l11 102.2l10 101.4l7 52.3l7 60.1l11 79.7l7 45.4l5 22.6l11 39.8l10 33.8l12 37.5l9 24.9l7 17.1l9 18.1l8 13.4l11 14.4l12 12.5l13 11l15 10.1l17 9.3l21 9l19 6.3l20 4.9l17 2.4l21 1l100 1.7l28 1.1l144.9 0.8"/>
<path stroke-opacity=".62" d="M348 233.6l13 184.3l12 145.1l8 112.5l3 29.9l12 83.7l15 92.9l5 23.3l10 37.4l8 32.8l4 12l21 54.2l24 59.5l73 160.7l22 51.3l18 37.1l14 25.3l16 26.2l15 22.7l20 28l8 9.7l9 8.9l12 10.4l12 9l16 9.9l11 5.3l1-0.5l9 4.1l45 23.8l19 7.1l27 8l16 3.6l19 3.3l23 3.3l22 2.2l20 0.9l37-1.3l23-2.1l47-8.7l21-5.6l10-3.5l8-3.5l12-6.4l15-8.8l12-8l11-8.1l11-9.3l12-11.3l11-11.4l10-11.5l10-12.6l9-12.5l10-15.2l10-16.6l9-15.9l8-15.4l8-17.3l5-12.4l13-37.8l10-33.5l7-26.4l24-97.4l8-28.2l8-25.3l10-26.6l9-19.5l6-10.2l12-17.5l16-25.3l7-13l5-11.5l7-19.9l6-20.5l22-92.3l3-9.1l4-9.3l7-13.3l6-8.6l4-4.4l6-3.8l6-1.6l9-0.1l3 1.1l6 3.9l6 3l4 1.1l3-1l3-2.3l4-4.8l1-2.3l7-24.9l7-47.1l3-26.8l8-86.6l4-32.4l5-33.6l3-15.8l4-14.5l3-6.8l2-2.5l1-0.7l1 0l2 1.5l2 3.4l3 8.8l3 12.6l12 75.2l11 74.5l5 28.5l5 34.9l8 43.8l4 18.3l6 22.1l6 17.6l2 4.7l2 2.9l1 0.8l1-0.2l3-4l7-15.9l2-6.2l2-8.7l4-23.2l9-68.3l10-58.6l10-47.9l3-8.8l1-1.8l1-0.8l1 0.7l1 1.9l3 8.5l9 37.6l3 16.3l2 14.6l6 59.3l7 80.2l11 103.8l10 103l7 53.2l7 61.1l11 81l7 46l5 23l11 40.5l10 34.3l12 38.1l9 25.2l7 17.3l9 18.5l8 13.6l11 14.6l12 12.6l14 11.9l15 10.1l17 9.2l21 9l19 6.3l20 4.7l14 2l16 1l108 1.4l27 1l144.9 0"/>
<path d="M348 179.4l13 190.3l12 149.8l8 116.2l3 30.8l12 86.4l15 95.9l5 24.1l10 38.6l8 33.9l4 12.3l21 56l24 61.5l73 165.8l22 53l18 38.3l13 24.4l16 27.2l15 23.5l20 29.1l8 10.2l9 9.4l12 10.9l12 9.4l9 6.1l8 4.8l11 5.5l1-0.6l10 4.8l43 23.6l18 7.1l27 8.4l13 3.2l15 3l23 3.7l16 2l31 2.4l38-1l25-2l47-8.6l21-5.4l10-3.4l8-3.5l12-6.2l16-9.4l12-8l11-8.2l11-9.2l12-11.3l10-10.4l10-11.4l10-12.5l9-12.5l9-13.6l10-16.4l10-17.5l8-15.4l7-14.8l6-14.4l13-37.5l10-33.3l8-30.1l24-98l8-28.4l8-25.4l10-26.8l9-19.6l6-10.2l12-17.6l16-25.4l7-13.1l5-11.5l7-20.1l6-20.6l22-92.8l3-9.1l4-9.5l7-13.3l6-8.6l4-4.5l6-3.7l6-1.6l9-0.1l3 1.1l6 4l6 3.1l4 1.1l3-1l3-2.3l4-4.8l1-2.3l7-25.1l7-47.4l3-27l8-87.2l4-32.6l5-33.8l3-15.9l4-14.6l3-6.9l2-2.5l1-0.6l1 0l2 1.5l2 3.4l3 8.9l3 12.7l12 75.8l11 75.1l5 28.7l5 35.2l8 44.1l4 18.5l6 22.3l6 17.7l2 4.8l2 2.9l1 0.9l1-0.2l3-4.1l7-16l2-6.2l2-8.7l4-23.4l9-68.8l10-58.9l10-48.2l3-8.8l1-1.9l1-0.8l1 0.8l1 1.9l3 8.5l9 37.9l3 16.5l2 14.7l6 59.7l7 80.9l11 104.6l10 103.8l7 53.6l7 61.5l11 81.7l7 46.4l5 23.2l11 40.8l10 34.6l12 38.4l9 25.5l7 17.5l9 18.6l8 13.7l11 14.8l12 12.8l13 11.3l15 10.4l17 9.5l21 9.3l19 6.5l20 5l17 2.5l21 1.1l100 2l28 1.2l144.9 1.3"/>
<path d="M348 140.6l13 195.1l12 153.5l8 119.2l3 31.5l12 88.7l15 98.3l5 24.6l10 39.6l8 34.8l4 12.6l21 57.4l24 63l73 170.1l22 54.3l18 39.2l13 25.1l16 27.8l15 24.1l20 29.8l8 10.5l9 9.6l12 11.2l12 9.6l9 6.3l8 4.9l11 5.6l1-0.5l10 4.9l43 24.1l18 7.3l27 8.6l13 3.4l15 3l23 3.8l16 2l30 2.5l38-0.8l26-2.2l47-8.5l21-5.5l10-3.5l8-3.4l12-6.3l16-9.5l12-8l11-8.3l11-9.4l12-11.4l10-10.5l10-11.5l10-12.7l9-12.5l9-13.8l10-16.6l10-17.7l8-15.5l7-15.1l6-14.5l13-37.9l10-33.7l8-30.4l24-99.2l8-28.7l8-25.8l10-27l9-19.9l6-10.3l12-17.8l16-25.6l7-13.3l5-11.7l7-20.2l6-20.9l22-93.9l3-9.2l4-9.6l7-13.4l6-8.8l4-4.4l6-3.8l3-1.1l3-0.5l9-0.1l3 1.1l6 4.1l6 3.1l4 1.1l3-1l3-2.3l4-4.8l1-2.4l7-25.4l7-47.9l3-27.4l8-88.2l4-32.9l5-34.3l3-16l4-14.8l3-6.9l2-2.6l1-0.7l1 0.1l2 1.5l2 3.5l3 8.9l3 12.9l12 76.8l11 75.9l5 29.1l5 35.7l8 44.7l4 18.6l6 22.6l6 17.9l2 4.9l2 3l1 0.8l1-0.2l3-4l7-16.2l2-6.3l2-8.9l4-23.6l9-69.6l10-59.6l10-48.8l3-8.9l1-1.9l1-0.8l1 0.8l1 1.9l3 8.6l9 38.4l3 16.7l2 14.9l6 60.4l7 81.9l11 105.9l10 105.1l7 54.2l7 62.3l11 82.7l7 47l5 23.4l11 41.3l10 35.1l12 38.9l9 25.8l7 17.7l9 18.9l8 13.9l11 14.9l12 13l13 11.5l15 10.5l17 9.7l21 9.5l19 6.6l20 5.1l16 2.5l21 1.2l101 2.3l28 1.3l144.9 1.8"/>
<path d="M348 125l13 198.7l12 156.3l8 121.4l3 32.1l12 90.3l15 100.1l5 25.1l10 40.3l8 35.4l4 12.9l21 58.4l24 64.2l35 83.8l38 89.4l22 55.3l18 40l13 25.4l16 28.4l15 24.6l20 30.3l8 10.7l9 9.8l12 11.3l12 9.9l9 6.4l8 4.9l11 5.8l1-0.6l10 5.1l43 24.5l18 7.4l27 8.8l13 3.4l15 3.1l23 3.8l16 2.1l30 2.5l38-1l26-2.2l47-8.9l21-5.7l10-3.6l8-3.5l12-6.5l16-9.7l12-8.3l11-8.5l11-9.6l12-11.7l10-10.7l10-11.8l10-13l9-12.8l9-14.1l10-17l10-18.1l8-15.9l7-15.4l6-14.8l13-38.8l10-34.4l8-31.1l24-101.3l8-29.3l8-26.3l10-27.7l9-20.3l6-10.6l12-18.1l16-26.3l7-13.6l5-11.9l7-20.7l6-21.3l22-96l3-9.4l4-9.8l7-13.7l6-9l4-4.6l6-3.9l3-1.1l3-0.5l9-0.2l3 1.2l6 4.1l6 3.2l4 1.1l3-1l3-2.5l4-4.9l1-2.4l7-25.9l7-48.9l3-28l8-90.1l4-33.6l5-35l3-16.4l4-15.1l3-7.1l2-2.6l1-0.7l1 0l2 1.6l2 3.5l3 9.2l3 13.1l12 78.3l11 77.5l5 29.6l5 36.4l8 45.6l4 19l6 23l6 18.3l2 4.9l2 3.1l1 0.8l1-0.2l3-4.1l7-16.6l2-6.4l2-9.1l4-24.1l9-71.1l10-60.8l10-49.9l3-9.1l1-2l1-0.7l1 0.7l1 2l3 8.8l9 39.1l3 17l2 15.2l6 61.7l7 83.5l11 108l10 107.2l7 55.3l7 63.6l11 84.3l7 47.9l5 23.9l11 42.1l10 35.8l12 39.6l9 26.3l7 18.1l9 19.2l8 14.1l11 15.2l12 13.2l14 12.4l15 10.6l17 9.6l21 9.4l19 6.6l20 4.9l14 2.2l16 1l108 1.9l27 1.1l144.9 0.6"/>
<path stroke-opacity=".62" d="M348 82.9l13 202.3l12 159.1l8 123.6l3 32.7l12 91.9l15 101.9l5 25.6l10 41l8 36l4 13.2l21 59.5l24 65.3l35 85.3l38 91l22 56.3l18 40.7l13 25.9l16 29l15 24.9l20 30.9l8 10.9l9 9.9l12 11.6l12 10l9 6.6l8 5l11 5.8l1-0.5l10 5.1l43 25l18 7.6l26 8.6l13 3.5l15 3.2l23 4l16 2.2l31 2.6l37-0.7l27-2.2l47-8.6l21-5.5l10-3.5l8-3.5l12-6.4l16-9.6l12-8.1l11-8.4l11-9.5l12-11.6l10-10.7l10-11.7l10-12.8l9-12.8l9-14l10-16.8l10-18l8-15.8l7-15.3l6-14.7l13-38.6l10-34.2l8-30.9l24-100.8l8-29.2l8-26.2l10-27.5l9-20.1l6-10.5l12-18.1l16-26l7-13.5l5-11.9l7-20.6l6-21.1l22-95.5l3-9.4l4-9.7l7-13.6l6-9l4-4.5l6-3.8l3-1.1l3-0.5l9-0.1l3 1.2l6 4.1l6 3.2l4 1.1l3-1l3-2.4l4-4.8l1-2.4l7-25.8l7-48.7l3-27.9l8-89.6l4-33.5l5-34.8l3-16.4l4-15l3-7.1l2-2.5l1-0.7l1 0l2 1.6l2 3.5l3 9.1l3 13.2l12 78l11 77.3l5 29.6l5 36.3l8 45.4l4 19l6 23l6 18.3l2 4.9l2 3l1 0.9l1-0.2l3-4.1l7-16.5l2-6.4l2-9l4-24l9-70.8l10-60.5l10-49.6l3-9.1l1-1.9l1-0.8l1 0.8l1 1.9l3 8.8l9 39.1l3 17l2 15.1l6 61.5l7 83.3l11 107.7l10 106.9l7 55.1l7 63.4l11 84.1l7 47.8l5 23.9l11 42l10 35.7l12 39.6l9 26.3l7 18l9 19.2l8 14.2l11 15.2l12 13.3l13 11.7l15 10.8l17 9.8l21 9.7l19 6.8l20 5.3l16 2.5l21 1.4l101 2.7l28 1.4l144.9 2.5"/>
<path d="M348 73.3l13 205.4l12 161.6l8 125.4l3 33.2l12 93.4l15 103.4l5 26l10 41.7l8 36.5l4 13.4l21 60.4l24 66.4l35 86.6l38 92.3l22 57.2l18 41.3l13 26.4l16 29.4l15 25.3l20 31.3l8 11.1l9 10.1l12 11.8l12 10.1l9 6.6l8 5.1l11 6l1-0.5l10 5.1l43 25.4l18 7.7l26 8.8l13 3.5l15 3.3l23 4l16 2.2l31 2.7l37-0.9l27-2.3l47-9.1l21-5.7l10-3.7l8-3.6l12-6.6l16-9.9l12-8.4l11-8.7l11-9.8l12-11.9l10-10.9l10-12.1l10-13.2l9-13.1l9-14.4l10-17.2l10-18.6l8-16.2l7-15.6l6-15.2l13-39.6l10-35.1l8-31.7l24-103.4l8-29.9l8-26.8l10-28.2l9-20.8l6-10.7l12-18.6l16-26.8l7-13.8l5-12.2l7-21.1l6-21.7l22-98l3-9.6l4-9.9l7-14.1l6-9.1l4-4.7l6-4l3-1.1l3-0.5l9-0.2l3 1.2l6 4.2l6 3.3l4 1.1l3-1l3-2.5l4-5l1-2.5l7-26.4l7-50l3-28.5l8-91.9l4-34.4l5-35.6l3-16.8l4-15.4l3-7.2l2-2.7l1-0.7l1 0l2 1.6l2 3.6l3 9.4l3 13.4l12 79.9l11 79.1l5 30.3l5 37.1l8 46.5l4 19.4l6 23.6l6 18.6l2 5.1l2 3.1l1 0.9l1-0.3l3-4.2l7-16.9l2-6.5l2-9.3l4-24.6l9-72.6l10-62.1l10-50.8l3-9.3l1-2l1-0.8l1 0.8l1 1.9l3 9l9 40l3 17.4l2 15.5l6 62.9l7 85.3l11 110.3l10 109.4l7 56.5l7 64.8l11 86.1l7 49l5 24.4l11 43l10 36.4l12 40.6l9 26.8l7 18.4l9 19.7l8 14.4l11 15.5l12 13.5l13 11.9l15 11l17 9.9l21 9.8l19 6.8l20 5.3l17 2.6l21 1.1l100 1.9l28 1.2l144.9 1"/>
<path d="M348 63.7l13 207.8l12 163.5l8 126.9l3 33.6l12 94.4l15 104.7l5 26.3l10 42.1l8 37l4 13.5l21 61.1l24 67.2l35 87.6l38 93.4l22 57.9l18 41.8l13 26.6l16 29.7l15 25.7l20 31.7l8 11.2l9 10.2l12 11.9l12 10.3l9 6.7l8 5.1l11 6l1-0.5l10 5.3l43 25.6l18 7.8l26 8.9l13 3.6l15 3.3l24 4.2l16 2.2l19 1.9l11 0.7l37-1.1l27-2.4l47-9.4l21-6l10-3.7l8-3.8l12-6.8l16-10.2l12-8.6l11-8.9l11-10.1l12-12.2l10-11.3l10-12.4l10-13.5l9-13.5l9-14.7l10-17.8l10-19l8-16.6l7-16.1l6-15.6l13-40.5l10-36.1l8-32.5l24-106l8-30.7l8-27.5l10-29l9-21.2l6-11.1l12-19l16-27.5l7-14.2l5-12.5l7-21.7l6-22.3l22-100.4l3-9.9l4-10.2l7-14.4l6-9.4l4-4.8l6-4.1l3-1.2l3-0.5l9-0.2l3 1.2l6 4.3l6 3.3l4 1.2l3-1.1l3-2.6l4-5.1l1-2.5l7-27.2l7-51.2l3-29.2l8-94.2l4-35.2l5-36.6l3-17.2l4-15.8l3-7.5l2-2.7l1-0.7l1 0l2 1.7l2 3.6l3 9.6l3 13.7l12 81.9l11 81l5 31l5 38.1l8 47.6l4 19.9l6 24.1l6 19.1l2 5.1l2 3.2l1 0.9l1-0.2l3-4.3l7-17.4l2-6.7l2-9.5l4-25.3l9-74.3l10-63.7l10-52.1l3-9.6l1-2l1-0.9l1 0.8l1 2.1l3 9.2l9 40.9l3 17.8l2 15.8l6 64.6l7 87.3l11 113l10 112.1l7 57.9l7 66.4l11 88.2l7 50.1l5 25l11 44l10 37.4l12 41.5l9 27.5l7 18.8l9 20.1l8 14.7l11 15.9l12 13.8l14 12.9l15 11l17 10.1l21 9.8l19 6.8l20 5.1l14 2.2l16 1.1l62 1.3l46 0.3l27 1.1l144.9 0.1"/>
<path stroke-opacity=".62" d="M348 14.9l13 210.1l12 165.4l8 128.4l3 34l12 95.5l15 105.9l5 26.6l10 42.6l8 37.4l4 13.6l21 61.9l24 67.9l35 88.6l38 94.5l22 58.6l17 40l14 29.2l16 30l15 26l20 32l8 11.4l8 9.2l12 12.2l12 10.5l10 7.6l8 5.2l11 6.1l1-0.5l10 5.3l43 26l18 7.8l26 9l13 3.6l15 3.4l23 4.1l16 2.2l31 2.8l38-0.7l26-2.1l47-8.8l21-5.8l10-3.6l8-3.6l12-6.7l16-10l12-8.5l11-8.8l11-9.9l12-12.1l10-11.2l10-12.2l10-13.5l9-13.3l9-14.6l10-17.6l10-18.9l8-16.5l7-16l6-15.5l13-40.3l10-35.9l8-32.4l24-105.6l8-30.6l8-27.4l10-28.7l9-21.2l6-11l12-18.8l16-27.3l7-14.1l5-12.4l7-21.6l6-22.2l22-100l3-9.8l4-10.2l7-14.3l6-9.3l4-4.7l6-4l3-1.2l3-0.5l9 0l3 1.2l6 4.4l6 3.3l4 1.3l3-1.1l3-2.5l4-5.1l1-2.5l7-27l7-51.1l3-29.1l8-94l4-35.1l5-36.5l3-17.1l4-15.8l3-7.4l2-2.7l1-0.7l1 0.1l2 1.6l2 3.7l3 9.6l3 13.8l12 81.9l11 81.1l5 31l5 38.1l8 47.7l4 19.9l6 24.2l6 19.1l2 5.2l2 3.2l1 0.9l1-0.2l3-4.3l7-17.2l2-6.7l2-9.4l4-25.2l9-74.2l10-63.4l10-52l3-9.5l1-2l1-0.8l1 0.8l1 2l3 9.3l9 41l3 17.8l2 15.9l6 64.5l7 87.3l11 113l10 112.2l7 57.9l7 66.4l11 88.3l7 50.2l5 25.1l11 44.1l10 37.4l12 41.6l9 27.6l7 19l9 20.2l8 14.9l11 16l12 13.9l13 12.4l15 11.4l17 10.4l21 10.3l19 7.2l20 5.6l16 2.8l20 1.5l102 3.5l28 1.7l144.9 3.8"/>
<path d="M348 16.4l13 212.6l12 167.3l8 129.8l3 34.4l12 96.5l15 107.1l5 26.9l10 43.2l8 37.8l4 13.8l21 62.5l24 68.7l35 89.6l38 95.6l22 59.2l18 42.8l13 27.2l16 30.4l15 26.2l20 32.5l8 11.4l9 10.5l12 12.2l12 10.5l9 6.8l8 5.3l11 6.1l1-0.5l10 5.4l43 26.3l18 7.9l27 9.4l13 3.6l15 3.3l23 4.2l16 2.2l30 2.7l38-1l26-2.3l47-9.4l21-6l10-3.8l8-3.8l12-6.9l16-10.4l12-8.8l11-9l11-10.3l12-12.5l10-11.4l10-12.6l10-13.9l9-13.7l9-15.1l10-18.1l10-19.4l8-16.9l7-16.5l6-15.9l13-41.4l10-36.8l8-33.2l24-108.4l8-31.4l8-28.1l10-29.6l9-21.7l6-11.3l12-19.4l16-28.1l7-14.5l5-12.7l7-22.1l6-22.8l22-102.6l3-10.1l4-10.5l7-14.6l6-9.7l4-4.8l6-4.2l3-1.2l3-0.5l9-0.2l3 1.3l6 4.4l6 3.4l4 1.2l3-1l3-2.6l4-5.3l1-2.6l7-27.7l7-52.3l3-29.9l8-96.4l4-36l5-37.4l3-17.6l4-16.1l3-7.6l2-2.8l1-0.7l1 0l2 1.7l2 3.8l3 9.7l3 14.1l12 83.9l11 82.9l5 31.8l5 38.9l8 48.8l4 20.4l6 24.7l6 19.5l2 5.3l2 3.3l1 0.9l1-0.2l3-4.5l7-17.7l2-6.8l2-9.7l4-25.8l9-76.1l10-65.1l10-53.2l3-9.8l1-2.1l1-0.8l1 0.8l1 2.1l3 9.4l9 41.9l3 18.2l2 16.3l6 66l7 89.4l11 115.7l10 114.8l7 59.2l7 68l11 90.3l7 51.3l5 25.7l11 45.1l10 38.2l12 42.5l9 28.2l7 19.3l9 20.6l8 15.2l11 16.3l12 14.2l13 12.5l15 11.5l17 10.5l21 10.3l19 7.2l20 5.6l17 2.7l21 1.3l100 2.3l28 1.3l144.9 1.6"/>
<path d="M348 9.4l13 215l12 169.1l8 131.3l3 34.8l12 97.6l15 108.3l5 27.2l10 43.7l8 38.2l4 14l21 63.2l24 69.4l35 90.7l38 96.7l22 59.8l18 43.3l13 27.5l16 30.8l15 26.5l20 32.8l8 11.6l9 10.5l12 12.3l12 10.7l9 6.9l8 5.3l11 6.2l1-0.5l10 5.5l43 26.5l18 8.1l27 9.4l13 3.7l15 3.4l23 4.1l16 2.3l19 2l11 0.7l38-1.1l26-2.5l47-9.7l11-3l10-3.3l10-3.9l8-3.8l12-7.1l16-10.6l12-9l11-9.3l11-10.5l12-12.8l10-11.7l10-12.9l10-14.1l9-14l9-15.4l10-18.5l10-19.8l8-17.3l7-16.8l6-16.2l13-42.3l10-37.5l8-33.9l24-110.5l8-32l8-28.7l10-30.1l9-22.2l6-11.5l12-19.9l16-28.6l7-14.8l5-13l7-22.6l6-23.3l22-104.6l3-10.3l4-10.7l7-14.9l6-9.9l4-5l6-4.2l3-1.2l3-0.6l9-0.2l3 1.3l6 4.5l6 3.4l4 1.2l3-1.1l3-2.6l4-5.4l1-2.6l7-28.3l7-53.4l3-30.5l8-98.2l4-36.7l5-38.1l3-17.9l4-16.5l3-7.8l2-2.8l1-0.8l1 0.1l2 1.7l2 3.8l3 10l3 14.3l12 85.4l11 84.4l5 32.4l5 39.6l8 49.7l4 20.8l6 25.1l6 19.9l2 5.4l2 3.3l1 0.9l1-0.2l3-4.5l7-18.1l2-7l2-9.9l4-26.3l9-77.5l10-66.4l10-54.4l3-9.9l1-2.2l1-0.8l1 0.8l1 2.1l3 9.6l9 42.7l3 18.6l2 16.5l6 67.3l7 91l11 117.8l10 116.9l7 60.3l7 69.3l11 91.9l7 52.3l5 26.1l11 45.9l10 38.9l12 43.3l9 28.6l7 19.7l9 20.9l8 15.4l11 16.6l12 14.4l14 13.5l15 11.5l17 10.4l21 10.3l19 7.1l20 5.4l14 2.3l16 1.2l62 1.4l46 0.5l27 1.1l144.9 0.4"/>
<path stroke-opacity=".62" d="M348-24.1l13 217.4l12 171l8 132.8l3 35.1l12 98.8l15 109.5l5 27.5l10 44.1l8 38.7l4 14.1l21 63.9l24 70.2l35 91.7l38 97.8l22 60.5l18 43.7l13 27.9l16 31.1l15 26.8l20 33.1l8 11.7l9 10.7l12 12.5l12 10.7l9 7l8 5.4l11 6.2l1-0.4l10 5.5l43 26.8l18 8.1l27 9.6l13 3.8l15 3.4l23 4.2l16 2.3l30 2.7l38-0.9l26-2.3l47-9.5l11-2.9l10-3.2l10-3.9l8-3.8l12-7.1l16-10.5l12-8.9l11-9.2l11-10.5l12-12.7l10-11.6l10-12.9l10-14.1l9-14l9-15.3l10-18.4l10-19.8l8-17.3l7-16.7l6-16.2l13-42.3l10-37.5l8-33.9l24-110.4l8-32l8-28.7l10-30.1l9-22.1l6-11.5l12-19.8l16-28.6l7-14.8l5-13l7-22.5l6-23.2l22-104.6l3-10.3l4-10.7l7-14.9l6-9.8l4-5l6-4.2l3-1.2l3-0.5l9-0.2l3 1.4l6 4.4l6 3.5l4 1.3l3-1.1l3-2.7l4-5.3l1-2.6l7-28.3l7-53.4l3-30.4l8-98.3l4-36.7l5-38.1l3-17.9l4-16.5l3-7.7l2-2.9l1-0.7l1 0l2 1.8l2 3.8l3 10l3 14.4l12 85.5l11 84.6l5 32.4l5 39.7l8 49.8l4 20.8l6 25.2l6 20l2 5.4l2 3.3l1 0.9l1-0.2l3-4.5l7-18l2-7l2-9.9l4-26.4l9-77.5l10-66.3l10-54.3l3-10l1-2.1l1-0.9l1 0.9l1 2.1l3 9.6l9 42.8l3 18.6l2 16.6l6 67.3l7 91.2l11 118l10 117.1l7 60.4l7 69.4l11 92.1l7 52.4l5 26.1l11 46.1l10 39l12 43.4l9 28.8l7 19.7l9 21l8 15.5l11 16.7l12 14.5l13 12.8l15 11.7l17 10.8l21 10.6l19 7.4l20 5.7l16 2.8l21 1.4l101 2.7l28 1.5l144.9 2.3"/>
<path d="M348-40l13 220.8l12 174.3l8 135.2l3 35.8l12 100.6l15 111.6l5 28l10 44.9l8 39.4l4 14.4l21 65.1l24 71.6l35 93.4l38 99.5l22 61.7l18 44.5l13 28.4l16 31.7l15 27.3l20 33.8l8 11.9l9 10.9l12 12.7l12 10.9l9 7.2l8 5.4l11 6.4l1-0.5l10 5.6l43 27.4l18 8.3l26 9.4l13 3.9l15 3.5l23 4.3l16 2.4l20 2.2l11 0.7l37-1.1l16-1.2l11-1.3l47-9.8l11-3l10-3.3l10-3.9l8-4l12-7.1l16-10.8l12-9.1l11-9.4l11-10.6l12-12.9l10-11.9l10-13.1l10-14.3l9-14.2l9-15.6l10-18.7l10-20.1l8-17.5l7-17l6-16.5l13-42.8l10-38.1l8-34.3l24-112l8-32.5l8-29.1l10-30.5l9-22.5l6-11.7l12-20.1l16-29l7-15l5-13.2l7-22.9l6-23.6l22-106.1l3-10.4l4-10.8l7-15.2l6-9.9l4-5.1l6-4.3l3-1.2l3-0.6l9-0.2l3 1.4l6 4.5l6 3.5l4 1.2l3-1.1l3-2.7l4-5.4l1-2.7l7-28.7l7-54.1l3-30.9l8-99.6l4-37.2l5-38.7l3-18.1l4-16.7l3-7.8l2-2.9l1-0.8l1 0l2 1.8l2 3.9l3 10.1l3 14.5l12 86.6l11 85.6l5 32.8l5 40.3l8 50.4l4 21l6 25.5l6 20.2l2 5.4l2 3.4l1 1l1-0.3l3-4.6l7-18.3l2-7.1l2-10l4-26.7l9-78.6l10-67.3l10-55.1l3-10.1l1-2.1l1-0.9l1 0.9l1 2.1l3 9.7l9 43.3l3 18.8l2 16.8l6 68.2l7 92.4l11 119.4l10 118.6l7 61.2l7 70.2l11 93.3l7 53l5 26.5l11 46.5l10 39.5l12 43.9l9 29.1l7 19.9l9 21.3l8 15.6l11 16.8l12 14.6l13 12.9l15 11.8l17 10.8l21 10.6l19 7.3l20 5.7l17 2.8l21 1.2l100 1.8l28 1.3l144.9 0.8"/>
<path d="M348-40l2 0l1 10.8l10 171.6l12 178.6l8 138.6l3 36.7l12 103.1l15 114.3l5 28.7l10 46.1l8 40.4l4 14.7l21 66.7l24 73.4l35 95.7l38 102l22 63.2l18 45.6l14 31.3l16 32.2l15 27.9l20 34.4l8 12l10 12.1l12 12.7l12 10.9l8 6.3l7 4.9l11 6.5l1-0.4l10 5.7l44 28.6l18 8.3l27 10l12 3.5l16 3.8l23 4.3l15 2.3l19 2.1l11 0.7l38-1l26-2.5l47-9.8l11-2.9l10-3.4l10-3.9l8-3.9l12-7.2l16-10.8l12-9.1l11-9.4l11-10.7l12-12.9l10-11.9l10-13.1l10-14.4l9-14.3l9-15.6l10-18.8l10-20.1l8-17.7l7-17l6-16.5l13-43l10-38.3l8-34.4l24-112.5l8-32.6l8-29.2l10-30.6l9-22.6l6-11.7l12-20.2l16-29.1l7-15.1l5-13.2l7-23l6-23.6l22-106.5l3-10.5l4-10.8l7-15.3l6-10l4-5l6-4.3l3-1.3l3-0.5l9-0.2l3 1.3l6 4.6l6 3.5l4 1.3l3-1.2l3-2.7l4-5.4l1-2.7l7-28.8l7-54.3l3-31l8-100l4-37.4l5-38.8l3-18.2l4-16.8l3-7.9l2-2.9l1-0.7l1 0l2 1.8l2 3.9l3 10.1l3 14.6l12 87l11 86l5 33l5 40.4l8 50.6l4 21.1l6 25.7l6 20.3l2 5.4l2 3.4l1 1l1-0.3l3-4.6l7-18.3l2-7.2l2-10l4-26.8l9-78.9l10-67.6l10-55.3l3-10.2l1-2.1l1-0.9l1 0.9l1 2.1l3 9.8l9 43.5l3 18.9l2 16.8l6 68.6l7 92.7l11 120l10 119.1l7 61.5l7 70.5l11 93.7l7 53.3l5 26.5l11 46.8l10 39.7l12 44.1l9 29.2l7 20.1l9 21.3l8 15.8l11 16.9l12 14.6l13 13l15 11.9l17 10.9l21 10.7l19 7.4l20 5.7l17 2.8l21 1.3l100 2.2l28 1.3l144.9 1.3"/>
</g>
<path stroke="#009400" stroke-width="11.2" d="M348 1134l7 36l6 28.2l4 17.6l3 11.5l2 6.5l3 8.8l4 10.5l5 11.6l6 12.4l5 9.5l6 10.3l4 6.3l4 5.6l10 11.3l3 3.8l3 4.7l5 9.7l2 2.7l4 4.1l3 2.5l3 1.9l3 1.3l6 2l3 1.4l3 2.6l7 7.9l2 2l5 3.6l6 3.7l6 3.1l6 2.7l17 6.2l12 5.1l10 4.9l8 4.6l3 2l3 2.5l12 11.3l5 4.1l7 4.7l18 10.6l5 3.6l14 10.6l4 2.7l5 2.8l8 3.8l17 7.2l23 10.3l14 5.7l9 3l21 6.1l21 6.5l18 4.5l16 3.3l25 4.3l15 1.9l17 1.4l67 4.1l53 2.4l21 1.6l34 1.5l15 0.4l10-0.1l6-0.5l13-1.8l8-0.3l7 1l15 3.4l4 0.5l3 0.1l7-0.6l12-2.3l5-0.7l11-0.8l32-1.6l8-0.7l8-1.2l9-1.8l21-4.8l21-5.2l7-2.1l16-6l4-1.2l4-0.8l5-0.2l2 1.4l3 2.9l1 0.5l2-0.1l2-1.1l2-1.6l9-9.7l14-12l7-5.7l6-4.3l10-6.2l5-3l5-2.6l5-2l5-1.2l7-0.9l18-1.5l16-2.4l9-2.2l4-2l3-2.1l3-2.5l11-10.7l4-5.1l9-12.8l5-5.9l2-1.7l4-2.7l7-3.9l4-1.8l4-1.3l7-1.7l5-0.9l7-0.4l27 0.8l2-0.6l3-2.1l4-4.3l5-7l2-4.2l2-5.6l6-21l7-30.5l5-19.4l4-13.8l4-10.9l2-4.7l2-3.6l3-3.5l2-1.9l2-1.3l1-0.3l1-0.1l2 0.5l3 1.8l5 5l1 1.2l2 3.5l3 7.1l7 19.5l8 24.7l3 8.4l4 10l8 18.5l5 12.3l4 8.4l2 3l5 6.6l2 2.3l2 1.8l2 1.2l2 0.4l1-0.1l2-0.8l2-1.4l2-1.9l5-6.2l2-3.4l2-4.8l3-8.9l6-19.7l8-29.5l8-27.5l2-6.2l2-5.3l3-5.6l5-7.2l3-2.9l2-0.8l1 0l2 0.7l2 1.5l2 2.1l2 2.5l3 4.4l1 2.1l2 5.7l10 37.9l15 64.5l4 15.5l5 17.1l9 28.3l4 11.3l6 14.6l6 12.8l6 11.2l6 9.9l5 6.8l7 7.9l6 5.7l3 2.4l5 3.4l8 4.6l5 2.5l7 2.8l7 2.5l8 2.5l21 5.1l7 1.2l7 0.7l13 0.7l37 1.4l103 6.8l48 2.5l40 1.7l70 2.4l69 1.5l25 0.2l2-0.3l3.9-1.2"/>
</g>
<text transform="translate(296.2 216.4) scale(1 1.045)" font-size="65" text-anchor="end">0.16</text>
<text transform="translate(296.2 558) scale(1 1.045)" font-size="65" text-anchor="end">0.12</text>
<text transform="translate(296.2 899.8) scale(1 1.045)" font-size="65" text-anchor="end">0.08</text>
<text transform="translate(296.2 1241.4) scale(1 1.045)" font-size="65" text-anchor="end">0.04</text>
<text transform="translate(296.2 1583.2) scale(1 1.045)" font-size="65" text-anchor="end">0.00</text>
<text transform="translate(537 1665.2) scale(1 1.045)" font-size="65" text-anchor="middle">400</text>
<text transform="translate(1298.8 1665.2) scale(1 1.045)" font-size="65" text-anchor="middle">600</text>
<text transform="translate(2060.4 1665.2) scale(1 1.045)" font-size="65" text-anchor="middle">800</text>
<text transform="translate(1300.3 1789)" font-size="80.2" text-anchor="middle">Wavelength, nm</text>
<text transform="translate(79.2 751.8) rotate(-90)" font-size="80" text-anchor="middle">Absorbance</text>
<g stroke="#000" fill="none">
<path stroke-width="3.9" d="M544.05 125V726.6"/>
<path stroke-width="2.4" d="M542.2 725H1305.2"/>
<path stroke-width="3.1" d="M532 176.4H544M532 276.2H544M532 376H544M532 475.8H544M532 575.6H544M532 675.45H544"/>
<path stroke-width="3.9" d="M696.1 725V737M898.4 725V737M1100.8 725V737M1303.2 725V737"/>
</g>
<text transform="translate(522.3 186.2) scale(1 1.04)" font-size="31.5" text-anchor="end" class="b">0.14</text>
<text transform="translate(522.3 286.2) scale(1 1.04)" font-size="31.5" text-anchor="end" class="b">0.12</text>
<text transform="translate(522.3 386.2) scale(1 1.04)" font-size="31.5" text-anchor="end" class="b">0.10</text>
<text transform="translate(522.3 486.1) scale(1 1.04)" font-size="31.5" text-anchor="end" class="b">0.08</text>
<text transform="translate(522.3 586) scale(1 1.04)" font-size="31.5" text-anchor="end" class="b">0.06</text>
<text transform="translate(522.3 685.9) scale(1 1.04)" font-size="31.5" text-anchor="end" class="b">0.04</text>
<text transform="translate(695.6 773.7) scale(0.99 1.04)" font-size="31.5" text-anchor="middle" class="b">4.0×10<tspan font-size="20.5" dx="1" dy="-12">-5</tspan></text>
<text transform="translate(898.2 773.7) scale(0.99 1.04)" font-size="31.5" text-anchor="middle" class="b">8.0×10<tspan font-size="20.5" dx="1" dy="-12">-5</tspan></text>
<text transform="translate(1101 773.7) scale(0.99 1.04)" font-size="31.5" text-anchor="middle" class="b">1.2×10<tspan font-size="20.5" dx="1" dy="-12">-4</tspan></text>
<text transform="translate(1304.3 773.7) scale(0.99 1.04)" font-size="31.5" text-anchor="middle" class="b">1.6×10<tspan font-size="20.5" dx="1" dy="-12">-4</tspan></text>
<text transform="translate(445.4 426) rotate(-90)" font-size="44" text-anchor="middle">Absorbance</text>
<text transform="translate(810 834)" font-size="45">C<tspan font-size="30" dy="11.5">MPc</tspan><tspan dy="-11.5">, mol/L</tspan></text>
<g fill="#fff" stroke="#000" stroke-width="2.4">
<circle cx="623.9" cy="681.2" r="15.6"/>
<circle cx="662.4" cy="610" r="15.6"/>
<circle cx="735.2" cy="548" r="15.6"/>
<circle cx="835.7" cy="350.4" r="15.6"/>
<circle cx="935.8" cy="308.8" r="15.6"/>
<circle cx="973.6" cy="319.8" r="15.6"/>
<circle cx="1102.2" cy="307.6" r="15.6"/>
<circle cx="1175.4" cy="243.9" r="15.6"/>
<circle cx="1249.7" cy="196" r="15.6"/>
<circle cx="1237.5" cy="215.5" r="15.6"/>
</g>
<g stroke="#00f" fill="none">
<path stroke-width="7" stroke-dasharray="11 29.94" d="M612.3 688.3L889.1 319.2"/>
<path stroke-width="8.8" stroke-dasharray="14 36" d="M861.4 332.2L1360 197.8"/>
</g>
</svg>
</body></html>
